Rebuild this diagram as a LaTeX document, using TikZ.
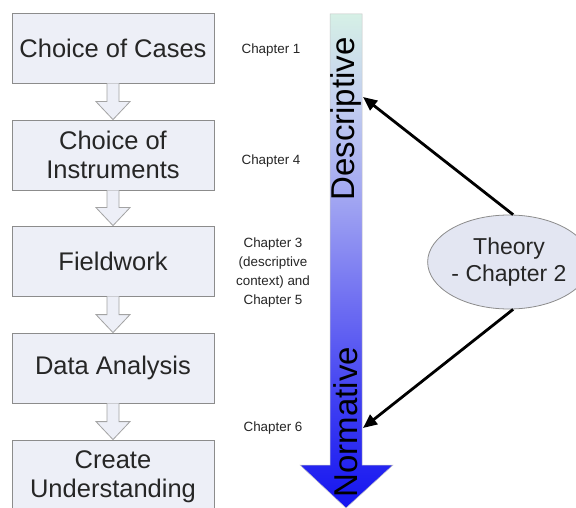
\documentclass[tikz,border=0pt]{standalone}
\usepackage{fontspec}
\setmainfont{Liberation Sans}
\usetikzlibrary{calc,shapes.geometric,arrows.meta}

\definecolor{boxfill}{HTML}{EDEFF7}
\definecolor{ovalfill}{HTML}{E3E6F2}
\definecolor{boxline}{HTML}{8C8C8C}
\definecolor{txt}{HTML}{262626}
\definecolor{sA}{HTML}{1414F0}
\definecolor{sB}{HTML}{4040F2}
\definecolor{sC}{HTML}{7070F2}
\definecolor{sD}{HTML}{A0A4F2}
\definecolor{sE}{HTML}{C2CEF0}
\definecolor{sF}{HTML}{D6F0E6}

% vertical colour ramp of the big arrow: blue at the tip, pale mint at the top
\pgfdeclareverticalshading{ramp}{100bp}{color(0bp)=(sA); color(25bp)=(sA);
  color(36bp)=(sB); color(46bp)=(sC); color(56bp)=(sD); color(66bp)=(sE);
  color(75bp)=(sF); color(100bp)=(sF)}

\tikzset{
  stage/.style={draw=boxline, line width=0.8pt, fill=boxfill, minimum width=202pt,
    minimum height=70pt, inner sep=0pt, align=center, text=txt,
    font=\fontsize{25.5}{29}\selectfont},
  hollow/.style={draw=boxline!80, line width=0.8pt, fill=boxfill, line join=miter},
  chap/.style={align=center, text=txt, font=\fontsize{13.4}{19}\selectfont},
  axislabel/.style={rotate=90, text=black, font=\fontsize{33}{36}\selectfont},
  theory/.style={ellipse, draw=boxline, line width=0.8pt, fill=ovalfill,
    minimum width=134pt, minimum height=94pt, inner sep=0pt, align=center, text=txt,
    font=\fontsize{23}{27}\selectfont},
  link/.style={line width=2.8pt, -{Triangle[length=14pt,width=12pt]}}
}

% hollow block arrow from the bottom of one stage to the top of the next
\newcommand\stagearrow[2]{%
  \draw[hollow] ($(#1.south)+(-6,0)$) -- ($(#2.north)+(-6,-18)$)
    -- ($(#2.north)+(-17,-18)$) -- (#2.north) -- ($(#2.north)+(17,-18)$)
    -- ($(#2.north)+(6,-18)$) -- ($(#1.south)+(6,0)$);}

\begin{document}
\begin{tikzpicture}[x=1pt,y=-1pt]
\useasboundingbox (0,0) rectangle (576,508);
\clip (0,0) rectangle (576,508);
\fill[white] (0,0) rectangle (576,508);

% process stages
\node[stage] (s1) at (113,48)  {Choice of Cases};
\node[stage] (s2) at (113,155) {Choice of\\Instruments};
\node[stage] (s3) at (113,261) {Fieldwork};
\node[stage] (s4) at (113,368) {Data Analysis};
\node[stage, minimum height=74pt] (s5) at (113,477) {Create\\Understanding};

\stagearrow{s1}{s2}
\stagearrow{s2}{s3}
\stagearrow{s3}{s4}
\stagearrow{s4}{s5}

% chapter references
\node[chap] (c1) at (271,50)  {Chapter 1};
\node[chap] (c4) at (271,161) {Chapter 4};
\node[chap] (c35) at (273,273) {Chapter 3\\(descriptive\\context) and\\Chapter 5};
\node[chap] (c6) at (273,428) {Chapter 6};

% descriptive-to-normative scale
\path[shading=ramp, draw=gray!45, line width=0.5pt]
  (330,14) -- (362,14) -- (362,465) -- (393,465) -- (346,508)
  -- (300,465) -- (330,465) -- cycle;
\node[axislabel] (desc) at (346,119) {Descriptive};
\node[axislabel] (norm) at (346,422) {Normative};

\coordinate (dIn) at (363,97);
\coordinate (nIn) at (363,428);

% theory
\node[theory] (th) at (509,262) {Theory\\- Chapter 2};
\draw[link] (th.85) -- (dIn);
\draw[link] (th.-85) -- (nIn);
\end{tikzpicture}
\end{document}
